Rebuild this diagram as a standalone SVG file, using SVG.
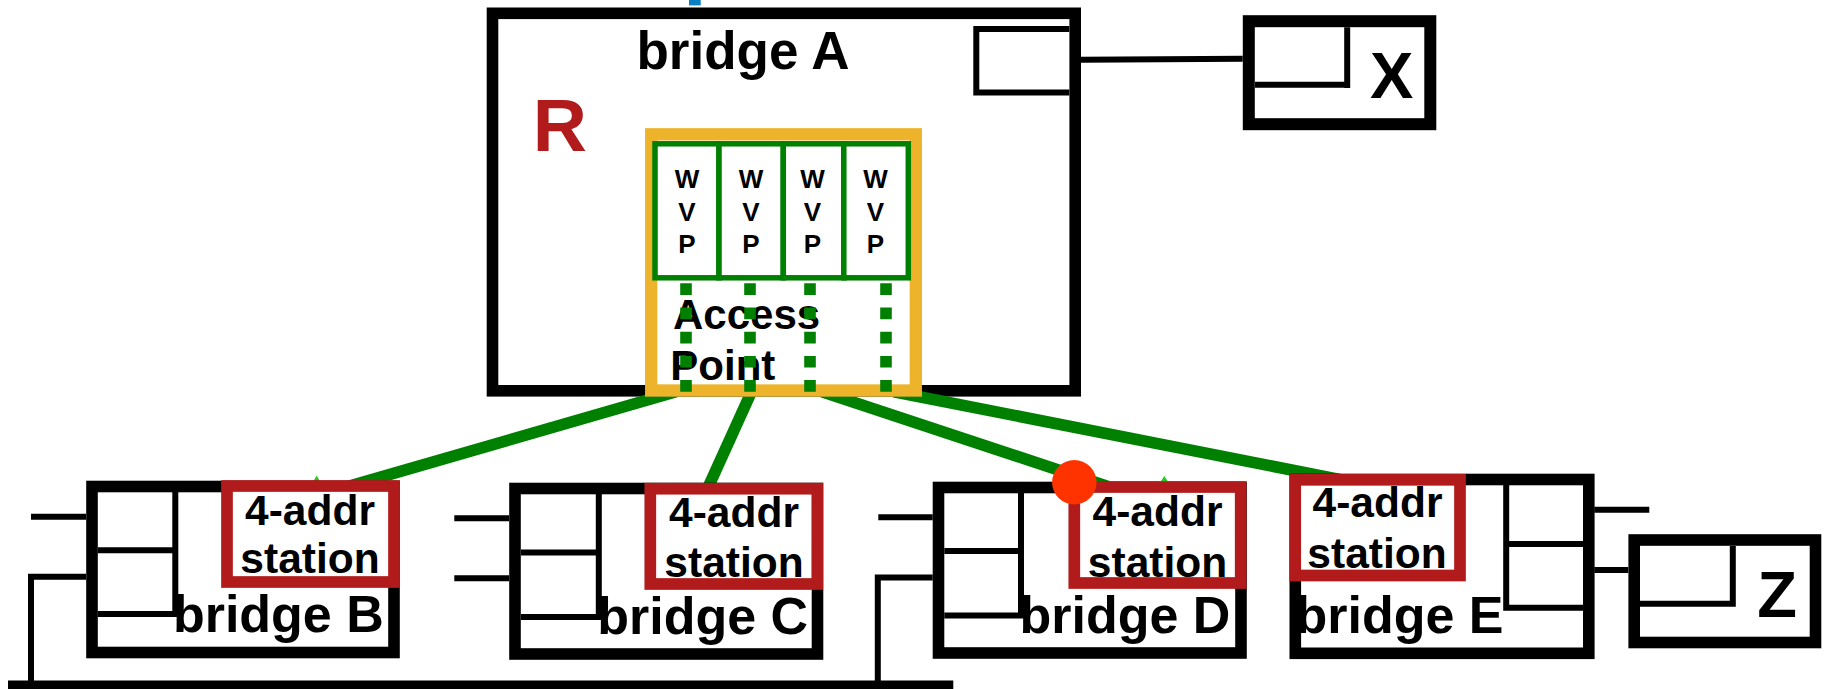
<svg xmlns="http://www.w3.org/2000/svg" width="1830" height="689" viewBox="0 0 1830 689">
<style>
.box{fill:#fff;stroke:#000;stroke-width:11.6}
.ln{fill:none;stroke:#000;stroke-width:6}
.t{font-family:"Liberation Sans",Arial,sans-serif;font-weight:bold;fill:#000}
.big{font-size:52px}
.st{font-size:42.5px;text-anchor:middle}
.w{font-size:26px;text-anchor:middle}
.sta{fill:#fff;stroke:#b21b1b;stroke-width:11.7}
.ap{fill:#fff;stroke:#edb32a;stroke-width:12.3}
.wvp{fill:#fff;stroke:#008000;stroke-width:5.5}
.wl{fill:none;stroke:#008000;stroke-width:11.6}
.dot{stroke-dasharray:11.7 12.5}
.tip{fill:#22cc22}
</style>
<rect id="top-mark" x="689" y="0" width="11.7" height="5.4" fill="#0a7fc1"/>
<g id="bridge-A">
<rect class="box" x="492.5" y="13.3" width="582.7" height="377.5"/>
<path class="ln" d="M1069.3,29 H976.3 V92.5 H1069.3"/>
<text class="t" x="743" y="69.3" font-size="53" text-anchor="middle">bridge A</text>
<text class="t" x="532.8" y="150.7" font-size="75" style="fill:#b21b1b">R</text>
</g>
<g id="connectors">
<path class="ln" d="M1081,59.7 L1242.7,58.8"/>
<path class="wl" d="M676,391.7 L345,487.4"/>
<path class="wl" d="M751.5,391.7 L706,492"/>
<path class="wl" d="M822,391.7 L1108,486.4"/>
<path class="wl" d="M893.9,391.7 L1352,481.9"/>
<polygon class="tip" points="313.5,481 316.7,475.5 319.9,481"/>
<polygon class="tip" points="1161,481 1164.3,476 1167.6,481"/>
</g>
<g id="access-point">
<rect class="ap" x="651.2" y="134.3" width="264.6" height="256.2"/>
<rect class="wvp" x="655" y="143.8" width="64" height="134"/>
<rect class="wvp" x="719" y="143.8" width="64.3" height="134"/>
<rect class="wvp" x="783.3" y="143.8" width="60.5" height="134"/>
<rect class="wvp" x="843.8" y="143.8" width="64.5" height="134"/>
<text class="t w" x="687" y="188.3">W</text><text class="t w" x="687" y="220.5">V</text><text class="t w" x="687" y="252.7">P</text>
<text class="t w" x="751" y="188.3">W</text><text class="t w" x="751" y="220.5">V</text><text class="t w" x="751" y="252.7">P</text>
<text class="t w" x="812.5" y="188.3">W</text><text class="t w" x="812.5" y="220.5">V</text><text class="t w" x="812.5" y="252.7">P</text>
<text class="t w" x="875.5" y="188.3">W</text><text class="t w" x="875.5" y="220.5">V</text><text class="t w" x="875.5" y="252.7">P</text>
<text class="t" x="673" y="329.3" font-size="42">Access</text>
<text class="t" x="670.3" y="380" font-size="42">Point</text>
<path class="wl dot" d="M686,283.3 V391.7 M750,283.3 V391.7 M810,283.3 V391.7 M886,283.3 V391.7"/>
</g>
<g id="host-X">
<rect class="box" x="1248.8" y="21.2" width="181.5" height="103" style="stroke-width:12"/>
<path class="ln" d="M1347.2,27.3 V88 M1255,84.7 H1350"/>
<text class="t" x="1391.7" y="98.3" font-size="65" text-anchor="middle">X</text>
</g>
<g id="lan">
<path d="M8,685.5 H953.3" stroke="#000" stroke-width="10" fill="none"/>
</g>
<g id="bridge-B">
<rect class="box" x="92" y="486.5" width="302" height="166"/>
<path class="ln" d="M175.3,492 V616.7 M97.7,550.3 H178.3 M97.7,614 H178.3"/>
<path class="ln" d="M31,516.7 H86 M86,576.8 H31 V685"/>
<text class="t big" x="172.9" y="632.3">bridge B</text>
</g>
<g id="bridge-C">
<rect class="box" x="515" y="488.5" width="302.5" height="165.5"/>
<path class="ln" d="M598.8,494 V620 M521,552.5 H601.8 M521,617 H601.8"/>
<path class="ln" d="M454.3,518.3 H509 M454.3,578.3 H509"/>
<text class="t big" x="597.2" y="634">bridge C</text>
</g>
<g id="bridge-D">
<rect class="box" x="938.5" y="487.5" width="302.5" height="165.5"/>
<path class="ln" d="M1021,493 V618.5 M944.3,551 H1024 M944.3,615.5 H1024"/>
<path class="ln" d="M878.3,517.3 H932.7 M932.7,577.5 H877.8 V685"/>
<text class="t big" x="1019.5" y="632.7">bridge D</text>
</g>
<g id="bridge-E">
<rect class="box" x="1295.3" y="479.5" width="293.5" height="173.8"/>
<path class="ln" d="M1506.2,485 V610.8 M1503.2,544 H1583.3 M1503.2,607.8 H1583.3"/>
<path class="ln" d="M1594.3,509.7 H1649.3 M1594.3,570 H1628.3"/>
<text class="t big" x="1295.5" y="633.3">bridge E</text>
</g>
<g id="host-Z">
<rect class="box" x="1634.2" y="540" width="181.3" height="102.5"/>
<path class="ln" d="M1732.8,546 V606.7 M1640,603.7 H1735.8"/>
<text class="t" x="1777" y="616.7" font-size="65" text-anchor="middle">Z</text>
</g>
<g id="station-B">
<rect class="sta" x="227" y="486" width="167" height="96"/>
<text class="t st" x="310" y="525">4-addr</text>
<text class="t st" x="310" y="573.3">station</text>
</g>
<g id="station-C">
<rect class="sta" x="650.3" y="488.7" width="167" height="95.3"/>
<text class="t st" x="734" y="526.7">4-addr</text>
<text class="t st" x="734" y="577.3">station</text>
</g>
<g id="station-D">
<rect class="sta" x="1074.3" y="487" width="166.4" height="96"/>
<text class="t st" x="1157.5" y="526">4-addr</text>
<text class="t st" x="1157.5" y="576.7">station</text>
</g>
<g id="station-E">
<rect class="sta" x="1295.2" y="479.8" width="164.8" height="95.7"/>
<text class="t st" x="1377.5" y="517.3">4-addr</text>
<text class="t st" x="1377" y="568.3">station</text>
</g>
<g id="fault-marker">
<circle cx="1074.3" cy="482.3" r="22.2" fill="#ff3300"/>
</g>
</svg>
